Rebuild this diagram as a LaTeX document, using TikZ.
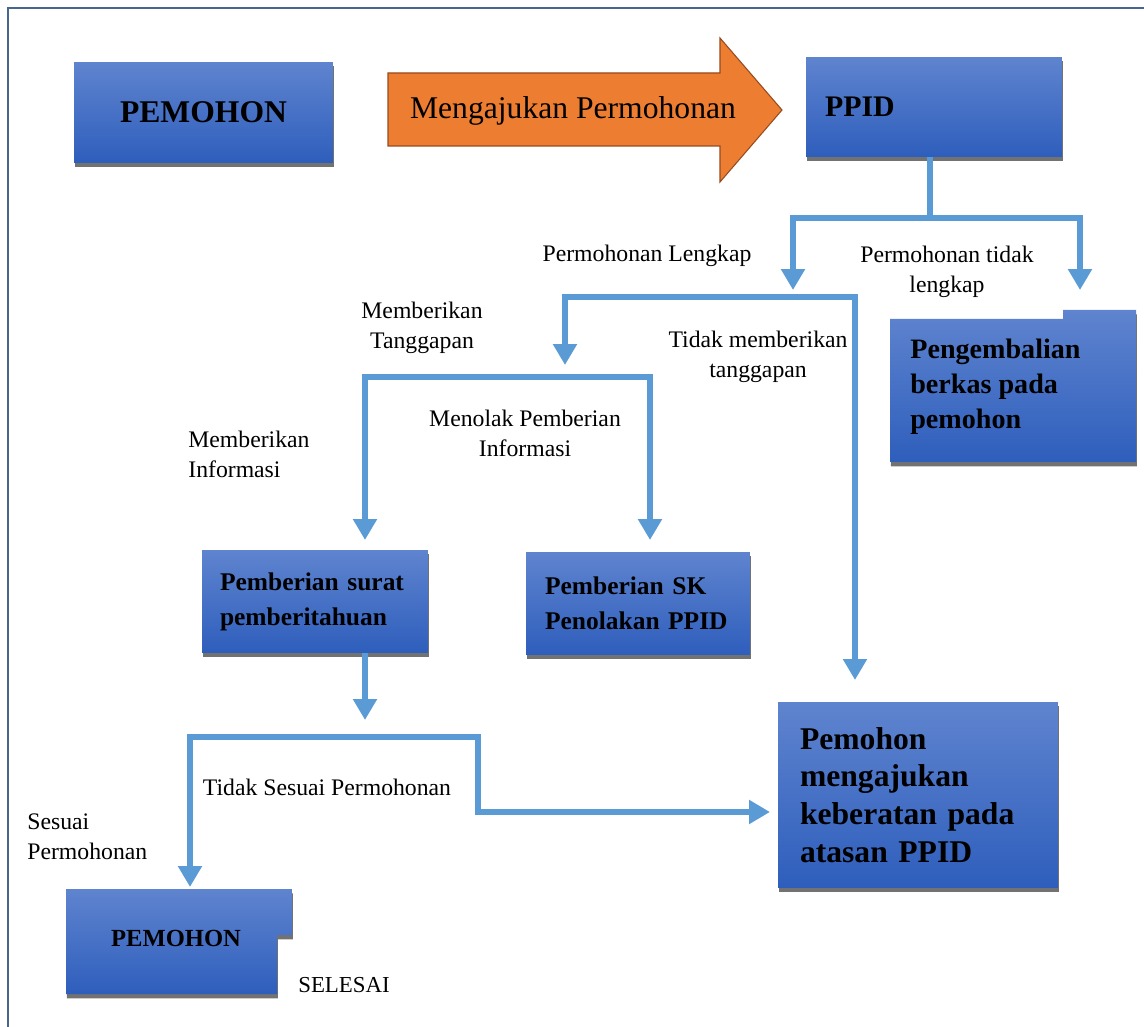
\documentclass[tikz,border=0pt]{standalone}
\usepackage{fontspec}
\setmainfont{Liberation Serif}
\usetikzlibrary{arrows.meta,shadows}

\definecolor{boxtop}{RGB}{95,132,207}
\definecolor{boxbot}{RGB}{46,94,188}
\definecolor{flowblue}{RGB}{91,155,213}
\definecolor{arroworange}{RGB}{237,125,49}
\definecolor{arrowedge}{RGB}{150,75,30}
\definecolor{frameblue}{RGB}{72,102,142}

\begin{document}
\begin{tikzpicture}[x=0.02cm, y=-0.02cm,
    box/.style={top color=boxtop, bottom color=boxbot, draw=none, inner sep=0pt,
        drop shadow={shadow xshift=0.5pt, shadow yshift=-2.5pt, fill=black!65, opacity=0.85}},
    line/.style={draw=flowblue, line width=3.4pt},
    flow/.style={line, -{Triangle[width=0.46cm,length=0.42cm]}},
    flowboth/.style={line, {Triangle[width=0.46cm,length=0.42cm]}-{Triangle[width=0.46cm,length=0.42cm]}},
    note/.style={font=\fontsize{13.5}{17}\selectfont, inner sep=0pt}
]

    % 1. Page size and the frame (top and left edge only)
    \useasboundingbox (0,0) rectangle (1144,1027);
    \draw [frameblue, line width=1.4pt] (8,1027) -- (8,8) -- (1144,8);

    % 2. Top row: PEMOHON, the big arrow and PPID
    \node [box, minimum width=5.18cm, minimum height=2.02cm,
        font=\fontsize{18}{21}\selectfont\bfseries] (pemohon) at (203.5,112.5) {PEMOHON};
    \path [fill=arroworange, draw=arrowedge, line width=0.6pt]
        (388,73) -- (720,73) -- (720,38) -- (782,110) -- (720,182) -- (720,146) -- (388,146) -- cycle;
    \node [font=\fontsize{18}{21}\selectfont, inner sep=0pt] (ajukan) at (573,111) {Mengajukan Permohonan};
    \node [box, minimum width=5.12cm, minimum height=2cm, text width=4.36cm, align=left,
        font=\fontsize{17}{20}\selectfont\bfseries] (ppid) at (934,107) {PPID};

    % 3. Returned file box (with the small step on top)
    \path [box] (890,319) -- (1063,319) -- (1063,310) -- (1136,310) -- (1136,462) -- (890,462) -- cycle;
    \node [anchor=west, align=left, inner sep=0pt,
        font=\fontsize{16}{19.8}\selectfont\bfseries] (kembali) at (910,387) {Pengembalian\\berkas pada\\pemohon};

    % 4. Middle boxes
    \node [box, minimum width=4.52cm, minimum height=2.06cm, text width=3.8cm, align=left,
        font=\fontsize{14.5}{20}\selectfont\bfseries] (surat) at (315,601.5) {Pemberian surat\\pemberitahuan};
    \node [box, minimum width=4.48cm, minimum height=2.06cm, text width=3.72cm, align=left,
        font=\fontsize{14.5}{20}\selectfont\bfseries] (sk) at (638,603.5) {Pemberian SK\\Penolakan PPID};

    % 5. Objection box
    \node [box, minimum width=5.6cm, minimum height=3.72cm, text width=4.72cm, align=left,
        font=\fontsize{18}{21.5}\selectfont\bfseries] (keberatan) at (918,795)
        {Pemohon\\mengajukan\\keberatan pada\\atasan PPID};

    % 6. Final PEMOHON box (step cut at lower right)
    \path [box] (66,889) -- (292,889) -- (292,935) -- (277,935) -- (277,994) -- (66,994) -- cycle;
    \node [font=\fontsize{14}{17}\selectfont\bfseries, inner sep=0pt] (akhir) at (176,938) {PEMOHON};
    \node [font=\fontsize{13}{16}\selectfont, inner sep=0pt] (selesai) at (344,985) {SELESAI};

    % 7. Branch points of the connectors
    \coordinate (cabang1) at (930,218);
    \coordinate (lengkap) at (793,290);
    \coordinate (tidak) at (1080,290);
    \coordinate (cabang2) at (565,297);
    \coordinate (tanggap) at (565,365);
    \coordinate (diam) at (855,680);
    \coordinate (informasi) at (365,540);
    \coordinate (tolak) at (650,540);
    \coordinate (turun) at (365,720);
    \coordinate (sesuai) at (190,887);
    \coordinate (banding) at (770,812);

    % 8. Connectors
    \draw [line] (ppid.south -| cabang1) -- (cabang1);
    \draw [flowboth] (lengkap) -- (lengkap |- cabang1) -- (tidak |- cabang1) -- (tidak);
    \draw [flowboth] (diam) -- (diam |- cabang2) -- (cabang2) -- (tanggap);
    \draw [flowboth] (informasi) -- (365,377) -- (650,377) -- (tolak);
    \draw [flow] (surat.south -| turun) -- (turun);
    \draw [flowboth] (sesuai) -- (190,737) -- (478,737) -- (478,812) -- (banding);

    % 9. Connector labels
    \node [note] (nLengkap) at (647,256) {Permohonan Lengkap};
    \node [note, align=center] (nTidak) at (947,272) {Permohonan tidak\\lengkap};
    \node [note, align=center] (nTanggap) at (422,328) {Memberikan\\Tanggapan};
    \node [note, align=center] (nDiam) at (758,357) {Tidak memberikan\\tanggapan};
    \node [note, align=center] (nTolak) at (525,433) {Menolak Pemberian\\Informasi};
    \node [note, align=left, anchor=west] (nInfo) at (188,454) {Memberikan\\Informasi};
    \node [note] (nTidakSesuai) at (327,787) {Tidak Sesuai Permohonan};
    \node [note, align=left, anchor=west] (nSesuai) at (27,837) {Sesuai\\Permohonan};

\end{tikzpicture}
\end{document}
